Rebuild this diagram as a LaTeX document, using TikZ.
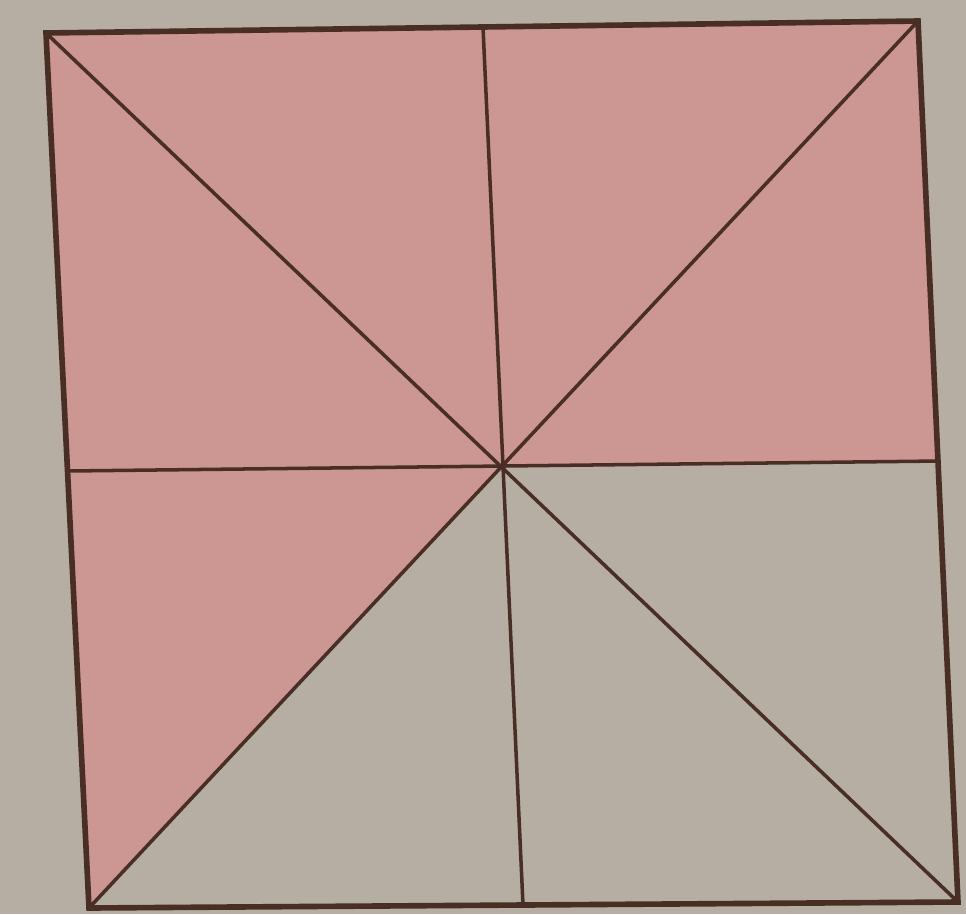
\documentclass[tikz,border=0pt]{standalone}
\definecolor{paper}{RGB}{182,174,162}
\definecolor{pinkfill}{RGB}{204,150,146}
\definecolor{ink}{RGB}{72,46,36}
\begin{document}
\begin{tikzpicture}[x=0.01cm,y=-0.01cm,
  outer/.style={draw=ink,line width=1.6pt,line join=miter},
  inner/.style={draw=ink,line width=1pt}]
\fill[paper] (0,0) rectangle (966,914);
\useasboundingbox (0,0) rectangle (966,914);
\coordinate (TL) at (46,33);
\coordinate (TR) at (918,21);
\coordinate (BR) at (958,902);
\coordinate (BL) at (89,908);
\coordinate (C) at (503,467);
\coordinate (T) at (483,27);
\coordinate (B) at (523,905);
\coordinate (L) at (68,471);
\coordinate (R) at (940,461);
\fill[pinkfill] (TL) -- (TR) -- (R) -- (C) -- (BL) -- cycle;
\draw[inner] (TL) -- (BR);
\draw[inner] (TR) -- (BL);
\draw[inner] (T) -- (B);
\draw[inner] (L) -- (R);
\draw[outer] (TL) -- (TR) -- (BR) -- (BL) -- cycle;
\end{tikzpicture}
\end{document}
